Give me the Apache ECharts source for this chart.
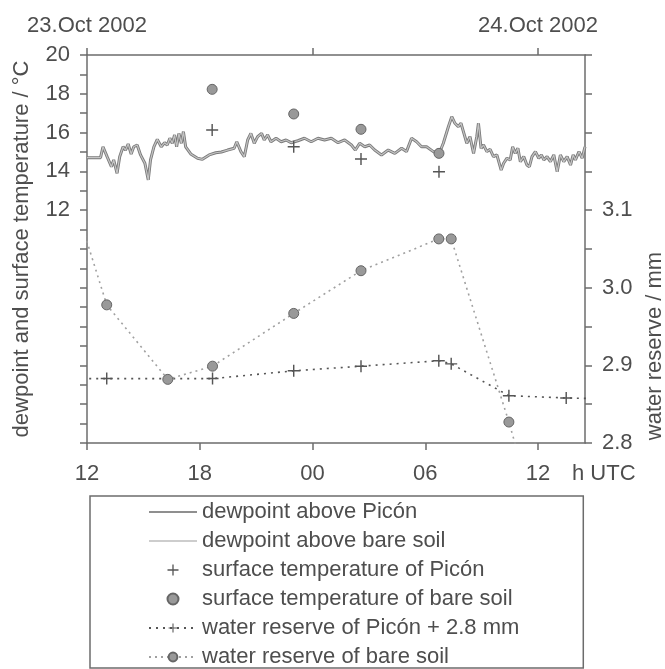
<!DOCTYPE html>
<html>
<head>
<meta charset="utf-8">
<script src="https://cdn.jsdelivr.net/npm/echarts@6/dist/echarts.min.js"></script>
<style>
  html, body { margin: 0; padding: 0; background: #fff; }
  #chart { width: 665px; height: 669px; }
</style>
</head>
<body>
<div id="chart"></div>
<script>
// hours since 12 UTC, 23 Oct 2002
const dewTime = [0, 0.72, 0.85, 1.07, 1.3, 1.42, 1.6, 1.74, 1.92, 2.05, 2.19, 2.35, 2.49, 2.67, 2.85, 3.08, 3.26, 3.38, 3.56, 3.74,
  3.95, 4.13, 4.27, 4.41, 4.54, 4.66, 4.77, 4.89, 5.02, 5.13, 5.25, 5.52, 5.88, 6.14, 6.5, 6.85, 7.15, 7.48, 7.83, 7.97,
  8.19, 8.37, 8.55, 8.72, 8.9, 9.08, 9.29, 9.43, 9.61, 9.79, 10.06, 10.33, 10.59, 10.86, 11.22, 11.57, 11.93, 12.29, 12.64, 13.0,
  13.36, 13.71, 14.07, 14.28, 14.51, 14.78, 15.04, 15.31, 15.67, 16.03, 16.38, 16.74, 17.0, 17.27, 17.54, 17.8, 18.07, 18.43, 18.73, 18.96,
  19.23, 19.41, 19.58, 19.76, 19.9, 20.03, 20.21, 20.38, 20.57, 20.74, 20.83, 20.97, 21.1, 21.28, 21.45, 21.63, 21.81, 22.04, 22.17, 22.35,
  22.52, 22.65, 22.79, 22.93, 23.06, 23.24, 23.41, 23.54, 23.68, 23.86, 24.04, 24.18, 24.31, 24.48, 24.66, 24.84, 25.02, 25.19, 25.37, 25.55,
  25.73, 25.87, 25.99, 26.18, 26.35, 26.5];
const dewPicon = [14.71, 14.71, 15.27, 14.76, 14.24, 14.59, 13.9, 14.76, 15.27, 15.1, 15.41, 14.9, 15.27, 15.36, 14.85, 14.42, 13.56, 14.59, 15.27, 15.65,
  15.27, 15.48, 15.36, 15.71, 15.45, 15.88, 15.27, 15.96, 15.45, 16.05, 15.27, 14.9, 14.68, 14.62, 14.85, 14.96, 15.0, 15.1, 15.19, 15.53,
  15.02, 14.76, 15.62, 15.96, 15.45, 15.79, 15.96, 15.62, 15.88, 15.53, 15.71, 15.53, 15.62, 15.48, 15.58, 15.71, 15.53, 15.71, 15.62, 15.71,
  15.48, 15.62, 15.36, 15.1, 15.45, 15.27, 15.36, 15.1, 14.85, 15.1, 14.93, 15.19, 15.02, 15.71, 15.53, 15.27, 15.27, 15.02, 14.9, 15.45,
  16.3, 16.82, 16.48, 16.31, 16.48, 16.05, 15.45, 15.79, 14.93, 15.79, 16.48, 15.19, 15.36, 15.02, 15.14, 14.76, 14.85, 14.07, 14.42, 14.68,
  14.59, 15.27, 14.93, 15.19, 14.5, 14.76, 14.33, 14.24, 14.76, 15.02, 14.68, 14.85, 14.59, 14.76, 14.5, 14.85, 13.98, 14.85, 14.5, 14.76,
  14.33, 14.85, 14.59, 15.02, 14.68, 15.27];
// the bare-soil dewpoint coincides with the Picón curve at the scan's resolution
const dewBare = dewPicon.slice();

const surfTime = [6.66, 11.0, 14.58, 18.73];
const surfPicon = [16.13, 15.27, 14.64, 13.98];
const surfBare = [18.23, 16.96, 16.17, 14.93];

// water reserve (mm); first and last entries lie outside the plotted hours
const waterPiconTime = [-1, 1.05, 6.68, 11.0, 14.58, 18.72, 19.38, 22.45, 25.5, 27.5];
const waterPicon = [2.883, 2.883, 2.883, 2.893, 2.899, 2.906, 2.902, 2.861, 2.858, 2.857];
const waterBareTime = [-0.2, 1.05, 4.3, 6.68, 11.0, 14.58, 18.72, 19.38, 22.45, 23.6];
const waterBare = [3.075, 2.978, 2.882, 2.899, 2.967, 3.022, 3.063, 3.063, 2.827, 2.73];

const hourLabels = ['12', '18', '00', '06', '12'];
const dayLabels = { 0: '23.Oct 2002', 24: '24.Oct 2002' };

const FONT = "'Liberation Sans', Arial, sans-serif";
const TXT = '#4e4e4e';
const AXIS = '#6c6c6c';
const PLUS = 'path://M4.4,0 L5.6,0 L5.6,4.4 L10,4.4 L10,5.6 L5.6,5.6 L5.6,10 L4.4,10 L4.4,5.6 L0,5.6 L0,4.4 L4.4,4.4 Z';

function pairs(xs, ys) {
  return xs.map((x, i) => [x, ys[i]]);
}
function inRange(xs, ys) {
  return xs.map((x, i) => ({ value: [x, ys[i]], symbol: (x < 0 || x > 26.5) ? 'none' : undefined }));
}

const axisLine = { show: true, onZero: false, lineStyle: { color: AXIS, width: 1.5 } };
const axisTick = { show: true, length: 7, lineStyle: { color: AXIS, width: 1.5 } };
const label = { fontSize: 22, color: TXT, fontFamily: FONT };

const chart = echarts.init(document.getElementById('chart'));

const option = {
  backgroundColor: '#fff',
  animation: false,
  grid: { left: 87, right: 80, top: 55, bottom: 226, containLabel: false, outerBoundsMode: 'none' },
  xAxis: [
    {
      type: 'value', position: 'bottom', min: 0, max: 26.5, interval: 6,
      axisLine, axisTick, splitLine: { show: false },
      axisLabel: Object.assign({}, label, {
        margin: 20, showMaxLabel: false,
        formatter: v => (v % 6 === 0 && v <= 24) ? hourLabels[v / 6] : ''
      }),
      name: 'h UTC', nameLocation: 'end', nameGap: -13, nameMoveOverlap: false,
      nameTextStyle: Object.assign({}, label, { align: 'left', verticalAlign: 'top', lineHeight: 62 })
    },
    {
      type: 'value', position: 'top', min: 0, max: 26.5, interval: 12,
      axisLine, axisTick, splitLine: { show: false },
      axisLabel: Object.assign({}, label, {
        margin: 18, showMaxLabel: false,
        formatter: v => dayLabels[v] || ''
      })
    }
  ],
  yAxis: [
    {
      type: 'value', position: 'left', min: 0, max: 20, interval: 1,
      axisLine, axisTick, splitLine: { show: false },
      axisLabel: Object.assign({}, label, {
        margin: 17,
        formatter: v => (v >= 12 && v % 2 === 0) ? String(v) : ''
      }),
      name: 'dewpoint and surface temperature / °C',
      nameLocation: 'middle', nameGap: 54,
      nameTextStyle: label
    },
    {
      type: 'value', position: 'right', min: 2.8, max: 3.3, interval: 0.05,
      axisLine, axisTick, splitLine: { show: false },
      axisLabel: Object.assign({}, label, {
        margin: 17,
        formatter: v => {
          const r = Math.round(v * 100);
          return (r % 10 === 0 && r <= 310) ? (r / 100).toFixed(1) : '';
        }
      })
    }
  ],
  graphic: [
    {
      type: 'text', x: 655, y: 346, rotation: Math.PI / 2,
      style: { text: 'water reserve / mm', font: '22px ' + FONT, fill: TXT, textAlign: 'center', textVerticalAlign: 'middle' }
    }
  ],
  legend: {
    orient: 'vertical', left: 90, top: 496,
    padding: [5, 64, 0, 58],
    itemWidth: 48, itemHeight: 11, itemGap: 7,
    borderColor: AXIS, borderWidth: 1.5, selectedMode: false,
    textStyle: { fontSize: 22, lineHeight: 22, color: TXT, fontFamily: FONT },
    data: [
      { name: 'dewpoint above Picón', lineStyle: { width: 1.5, color: '#6a6a6a' }, itemStyle: { opacity: 0 } },
      { name: 'dewpoint above bare soil', lineStyle: { width: 1.5, color: '#bdbdbd' }, itemStyle: { opacity: 0 } },
      'surface temperature of Picón',
      'surface temperature of bare soil',
      'water reserve of Picón + 2.8 mm',
      'water reserve of bare soil'
    ]
  },
  series: [
    {
      name: 'dewpoint above Picón', type: 'line', xAxisIndex: 0, yAxisIndex: 0,
      data: pairs(dewTime, dewPicon), symbol: 'none', z: 2,
      lineStyle: { color: '#7a7a7a', width: 3 },
      itemStyle: { color: '#7a7a7a' }
    },
    {
      name: 'dewpoint above bare soil', type: 'line', xAxisIndex: 0, yAxisIndex: 0,
      data: pairs(dewTime, dewBare), symbol: 'none', z: 3,
      lineStyle: { color: '#c4c4c4', width: 1.2 },
      itemStyle: { color: '#c4c4c4' }
    },
    {
      name: 'surface temperature of Picón', type: 'scatter', xAxisIndex: 0, yAxisIndex: 0,
      data: pairs(surfTime, surfPicon), symbol: PLUS, symbolSize: 12, z: 4,
      itemStyle: { color: '#555', opacity: 1 }
    },
    {
      name: 'surface temperature of bare soil', type: 'scatter', xAxisIndex: 0, yAxisIndex: 0,
      data: pairs(surfTime, surfBare), symbol: 'circle', symbolSize: 10, z: 4,
      itemStyle: { color: '#999', borderColor: '#666', borderWidth: 1, opacity: 1 }
    },
    {
      name: 'water reserve of Picón + 2.8 mm', type: 'line', xAxisIndex: 0, yAxisIndex: 1,
      data: inRange(waterPiconTime, waterPicon), symbol: PLUS, symbolSize: 12, showAllSymbol: true, z: 4,
      lineStyle: { color: '#555', width: 1.6, type: [2, 5] },
      itemStyle: { color: '#555' }
    },
    {
      name: 'water reserve of bare soil', type: 'line', xAxisIndex: 0, yAxisIndex: 1,
      data: inRange(waterBareTime, waterBare), symbol: 'circle', symbolSize: 10, showAllSymbol: true, z: 4,
      lineStyle: { color: '#a0a0a0', width: 1.6, type: [2, 4] },
      itemStyle: { color: '#999', borderColor: '#666', borderWidth: 1 }
    }
  ]
};

chart.setOption(option);
</script>
</body>
</html>
